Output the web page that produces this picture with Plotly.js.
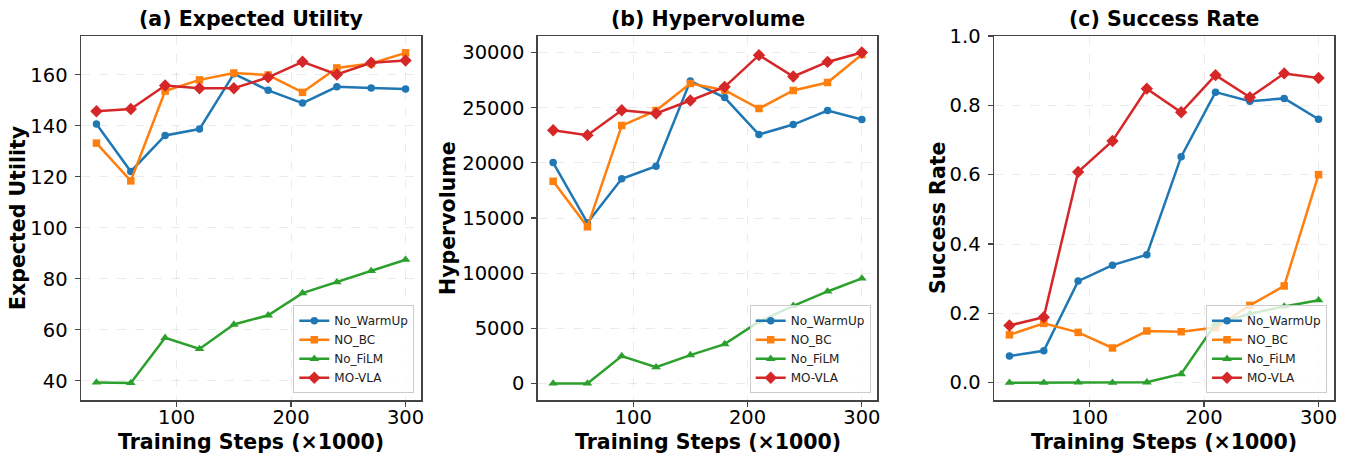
<!DOCTYPE html>
<html>
<head>
<meta charset="utf-8">
<script src="https://cdn.plot.ly/plotly-3.0.1.min.js"></script>
<style>html,body{margin:0;padding:0;background:#fff;}#chart{width:1348px;height:456px;}</style>
</head>
<body>
<div id="chart"></div>
<script>
const steps = [30, 60, 90, 120, 150, 180, 210, 240, 270, 300];
const seriesNames = ["No_WarmUp", "NO_BC", "No_FiLM", "MO-VLA"];

// (a) Expected Utility
const euNoWarmUp = [140.7, 122.1, 136.2, 138.7, 160.4, 153.9, 148.9, 155.3, 154.8, 154.4];
const euNoBC     = [133.2, 118.4, 153.6, 158.0, 160.7, 159.9, 153.1, 162.7, 164.4, 168.6];
const euNoFiLM   = [39.4, 39.2, 56.9, 52.5, 62.1, 65.7, 74.4, 78.7, 83.1, 87.5];
const euMOVLA    = [145.7, 146.6, 155.8, 154.7, 154.7, 159.0, 165.1, 160.1, 164.7, 165.6];

// (b) Hypervolume
const hvNoWarmUp = [20030, 14560, 18550, 19700, 27430, 25920, 22570, 23470, 24740, 23930];
const hvNoBC     = [18340, 14200, 23380, 24740, 27190, 26590, 24920, 26560, 27280, 29820];
const hvNoFiLM   = [0, 0, 2480, 1480, 2570, 3570, 5600, 7040, 8340, 9520];
const hvMOVLA    = [22960, 22510, 24770, 24470, 25650, 26890, 29760, 27830, 29150, 30000];

// (c) Success Rate
const srNoWarmUp = [0.077, 0.092, 0.293, 0.339, 0.369, 0.652, 0.838, 0.812, 0.820, 0.760];
const srNoBC     = [0.138, 0.171, 0.145, 0.100, 0.149, 0.147, 0.159, 0.223, 0.279, 0.600];
const srNoFiLM   = [0.0, 0.0, 0.001, 0.0, 0.001, 0.025, 0.170, 0.199, 0.220, 0.238];
const srMOVLA    = [0.165, 0.189, 0.608, 0.697, 0.848, 0.780, 0.887, 0.823, 0.892, 0.879];

const panelTitles = ["(a) Expected Utility", "(b) Hypervolume", "(c) Success Rate"];
const yTitles = ["Expected Utility", "Hypervolume", "Success Rate"];
const xTitle = "Training Steps (×1000)";

const colors = ["#1f77b4", "#ff7f0e", "#2ca02c", "#d62728"];
const symbols = ["circle", "square", "triangle-up", "diamond"];
const msizes = [7.5, 7.5, 8.5, 9.5];

const panels = [
  [euNoWarmUp, euNoBC, euNoFiLM, euMOVLA],
  [hvNoWarmUp, hvNoBC, hvNoFiLM, hvMOVLA],
  [srNoWarmUp, srNoBC, srNoFiLM, srMOVLA]
];

const W = 1348, H = 456;
const xDomPx = [[81, 421], [537.7, 877.3], [994, 1334]];
const yDomPx = [36, 400];
const yTitleXPx = [18, 448, 938];
const legendRightPx = [414.3, 870.7, 1327];
const legendBottomPx = 393.3;

const traces = [];
panels.forEach((p, pi) => {
  const sfx = pi === 0 ? "" : String(pi + 1);
  p.forEach((vals, si) => {
    traces.push({
      x: steps, y: vals, type: "scatter", mode: "lines+markers",
      name: seriesNames[si],
      xaxis: "x" + sfx, yaxis: "y" + sfx,
      legend: "legend" + sfx,
      line: {color: colors[si], width: 2.5},
      marker: {color: colors[si], symbol: symbols[si], size: msizes[si]},
      showlegend: true
    });
  });
});

const fontFam = "DejaVu Sans, sans-serif";
const yRanges = [[32.5, 175.2], [-1500, 31500], [-0.05, 1.0]];
const yDticks = [20, 5000, 0.2];
const yFormats = ["d", "d", ".1f"];

const layout = {
  width: W, height: H,
  margin: {l: 0, r: 0, t: 0, b: 0},
  paper_bgcolor: "#fff", plot_bgcolor: "#fff",
  font: {family: fontFam, color: "#000"},
  annotations: [],
  showlegend: true
};

const titleFont = {family: fontFam, size: 20.5, color: "#000"};

for (let i = 0; i < 3; i++) {
  const sfx = i === 0 ? "" : String(i + 1);
  const axCommon = {
    showline: true, mirror: true, linecolor: "#444", linewidth: 1.5,
    ticks: "outside", ticklen: 5, tickwidth: 1.2, tickcolor: "#444",
    showgrid: true, gridcolor: "rgba(0,0,0,0.10)", griddash: "dash", gridwidth: 0.8,
    zeroline: false,
    tickfont: {family: fontFam, size: 19.5, color: "#000"}
  };
  layout["xaxis" + sfx] = Object.assign({}, axCommon, {
    domain: [xDomPx[i][0] / W, xDomPx[i][1] / W],
    anchor: "y" + sfx,
    ticklabelstandoff: -6,
    range: [16.5, 313.5], tick0: 0, dtick: 100
  });
  layout["yaxis" + sfx] = Object.assign({}, axCommon, {
    domain: [1 - yDomPx[1] / H, 1 - yDomPx[0] / H],
    anchor: "x" + sfx,
    ticklabelstandoff: 3,
    range: yRanges[i], tick0: 0, dtick: yDticks[i], tickformat: yFormats[i]
  });
  const cx = (xDomPx[i][0] + xDomPx[i][1]) / 2 / W;
  // panel title
  layout.annotations.push({
    text: "<b>" + panelTitles[i] + "</b>",
    xref: "paper", yref: "paper", x: cx, y: 1 - 18.5 / H,
    xanchor: "center", yanchor: "middle", showarrow: false, font: titleFont
  });
  // x-axis title
  layout.annotations.push({
    text: "<b>" + xTitle + "</b>",
    xref: "paper", yref: "paper", x: cx, y: 1 - 442 / H,
    xanchor: "center", yanchor: "middle", showarrow: false, font: titleFont
  });
  // y-axis title
  layout.annotations.push({
    text: "<b>" + yTitles[i] + "</b>",
    xref: "paper", yref: "paper", x: yTitleXPx[i] / W, y: 1 - ((yDomPx[0] + yDomPx[1]) / 2) / H,
    xanchor: "center", yanchor: "middle", textangle: -90, showarrow: false, font: titleFont
  });
  layout["legend" + sfx] = {
    x: legendRightPx[i] / W, xanchor: "right",
    y: 1 - legendBottomPx / H, yanchor: "bottom",
    bgcolor: "rgba(255,255,255,0.8)", bordercolor: "#cccccc", borderwidth: 1,
    font: {family: fontFam, size: 12, color: "#222"},
    tracegroupgap: 0, itemwidth: 30
  };
}

Plotly.newPlot("chart", traces, layout, {staticPlot: true, displayModeBar: false});
</script>
</body>
</html>
